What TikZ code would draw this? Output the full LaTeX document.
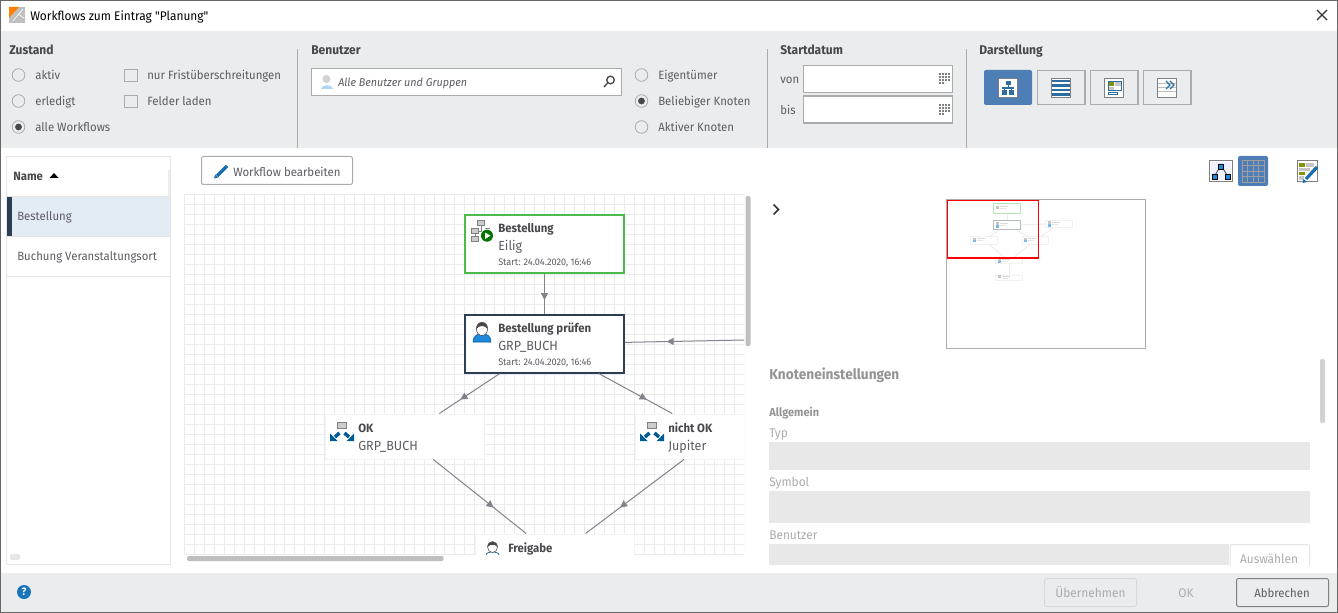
\documentclass[tikz,border=0pt]{standalone}
\usepackage{fontspec}
\setmainfont{Fira Sans}[FakeStretch=0.95]
\newfontfamily\wintitlefont{Fira Sans}[FakeStretch=0.95]
\usetikzlibrary{arrows.meta,decorations.markings}
\definecolor{barbg}{HTML}{EBECEE}
\definecolor{txtgray}{HTML}{5C5C62}
\definecolor{headgray}{HTML}{48484C}
\definecolor{edgegray}{HTML}{ABABAB}
\definecolor{softgray}{HTML}{E6E6E6}
\definecolor{fieldgray}{HTML}{E8E8E8}
\definecolor{gridgray}{HTML}{EBEBEB}
\definecolor{linkgray}{HTML}{82828C}
\definecolor{activeblue}{HTML}{4F7DB5}
\definecolor{iconblue}{HTML}{2B6E9F}
\definecolor{splitblue}{HTML}{005A96}
\definecolor{personblue}{HTML}{1E88DC}
\definecolor{navy}{HTML}{2C3E55}
\definecolor{startgreen}{HTML}{4CBB4C}
\definecolor{rowblue}{HTML}{E3ECF3}
\tikzset{
  lbl/.style={anchor=base west,inner sep=0pt,text=txtgray,font=\fontsize{9}{11}\selectfont},
  lblbold/.style={lbl,text=headgray,font=\fontsize{9}{11}\selectfont\bfseries},
  lblhead/.style={lbl,text=headgray,font=\fontsize{9.5}{11}\selectfont\bfseries},
  lblsub/.style={lbl,font=\fontsize{9.9}{11}\selectfont},
  lblsmall/.style={lbl,font=\fontsize{7.2}{9}\selectfont},
  lblform/.style={lbl,text=edgegray,font=\fontsize{9.4}{11}\selectfont},
  wfbox/.style={draw=gridgray!60,fill=white,line width=.75pt,minimum width=119.25pt,minimum height=33.75pt,inner sep=0pt},
  wfact/.style={wfbox,line width=1.5pt,minimum height=43pt},
  wflink/.style={draw=linkgray,line width=.75pt,postaction={decorate},
    decoration={markings,mark=at position 0.65 with {\arrow{Triangle[length=5.25pt,width=5.25pt]}}}},
  minibox/.style={draw=gridgray!70,fill=white,line width=.6pt,minimum width=20pt,inner sep=0pt},
  minilink/.style={draw=gridgray,line width=.6pt},
  radio/.style={draw=edgegray,fill=barbg,line width=.6pt},
  flatbtn/.style={draw=edgegray,line width=.9pt},
  personicon/.pic={
    \fill[personblue,draw=splitblue,line width=.4pt] (-9,16) .. controls (-9,10) and (-5,8) .. (0,7) .. controls (5,8) and (9,10) .. (9,16) -- cycle;
    \fill[white,draw=headgray,line width=.4pt] (0,3) ellipse (5.6 and 6.6);
    \fill[headgray] (-5.6,3) .. controls (-6.6,-6) and (6.6,-6) .. (5.6,3) .. controls (3,-1) and (-3,-1) .. (-5.6,3) -- cycle;
  },
  spliticon/.pic={
    \fill[gray!40,draw=gray,line width=.4pt] (7.5,-10) rectangle (16.5,-3.5);
    \draw[splitblue,line width=2.6pt] (9.5,1) -- (5,5);
    \fill[splitblue] (0,9) -- (0,1.5) -- (7.5,9) -- cycle;
    \draw[splitblue,line width=2.6pt] (14.5,1) -- (19,5);
    \fill[splitblue] (24,9) -- (24,1.5) -- (16.5,9) -- cycle;
  }
}
\begin{document}
\begin{tikzpicture}[x=0.75pt,y=-0.75pt]
\useasboundingbox (0,0) rectangle (1338,613);
\fill[white] (0,0) rectangle (1338,613);
\fill[barbg] (0,31) rectangle (1338,148);
\fill[barbg] (0,573) rectangle (1338,613);
\draw[edgegray!60!black,line width=.75pt] (0.5,0.5) rectangle (1337.5,612.5);

\fill[gray!50] (9,7) rectangle (25,23);
\fill[orange] (9,7) -- (19,7) -- (9,18) -- cycle;
\draw[white,line width=.5pt] (13,21) -- (23,9) (18,14) -- (24,18);
\node[lbl,text=black,font=\wintitlefont\fontsize{9.4}{11}\selectfont] (wintitle) at (30,20.5) {Workflows zum Eintrag "Planung"};
\draw[black!80,line width=.9pt] (1317,10) -- (1327,20) (1327,10) -- (1317,20);

\foreach \x in {297,767,966}
    \draw[edgegray,line width=.75pt] (\x,49) -- (\x,148);
\node[lblhead] (headzustand) at (9,55) {Zustand};
\node[lblhead] (headbenutzer) at (311,55) {Benutzer};
\node[lblhead] (headstart) at (780,55) {Startdatum};
\node[lblhead] (headdarst) at (979,55) {Darstellung};

\foreach \x/\y/\t in {18.5/75/aktiv,18.5/101/erledigt,18.5/127/alle Workflows,641.5/75/Eigentümer,641.5/101/Beliebiger Knoten,641.5/127/Aktiver Knoten}{
    \draw[radio] (\x,\y) circle (6.3);
    \node[lbl,xshift=12.4pt] (radio\x\y) at (\x,\y+5) {\t};
}
\fill[headgray] (18.5,127) circle (3.4);
\fill[headgray] (641.5,101) circle (3.4);
\foreach \y/\t in {75/nur Fristüberschreitungen,101/Felder laden}{
    \draw[edgegray,line width=.6pt] (124.5,\y-6) rectangle (137,\y+6);
    \node[lbl] (check\y) at (147,\y+5) {\t};
}

\draw[flatbtn,fill=white] (311.5,68.5) rectangle (621.5,95.5);
\fill[gray!35] (326.5,79) circle (4);
\fill[personblue!35] (320.5,89) .. controls (320.5,84) and (332.5,84) .. (332.5,89) -- cycle;
\node[lbl,font=\fontsize{8.5}{11}\selectfont\itshape] (searchtxt) at (338,86.5) {Alle Benutzer und Gruppen};
\draw[headgray,line width=1pt] (610.5,80) circle (3.8) (607.8,82.8) -- (604,87);

\node[lbl] (vonlbl) at (780,84) {von};
\node[lbl] (bislbl) at (780,115) {bis};
\foreach \y in {65.5,96}{
    \draw[flatbtn,fill=white] (803.5,\y) rectangle (952.5,\y+27);
    \foreach \i in {0,1,2,3}
        \foreach \j in {0,1,2}
            \fill[gray] (939+3*\i,\y+8+3*\j) rectangle +(2,2);
    \fill[gray] (939,\y+17) rectangle +(2,2);
    \fill[gray] (942,\y+17) rectangle +(2,2);
}

\fill[activeblue,rounded corners=1.5pt] (984,70) rectangle (1032,105);
\foreach \x in {1037,1090,1143}
    \draw[flatbtn] (\x.5,70.5) rectangle (\x+48,104.5);
\foreach \x in {998,1051,1104,1157}
    \draw[gray,fill=white,line width=.75pt] (\x.5,78.5) rectangle (\x+19.5,97.5);
\fill[iconblue] (1005.5,81) rectangle (1010.5,85.5);
\fill[iconblue] (1002,87) rectangle (1014,89);
\fill[iconblue] (1002,90.5) rectangle (1007,95);
\fill[iconblue] (1009,90.5) rectangle (1014,95);
\draw[iconblue,line width=.75pt] (1008,85) -- (1008,87) (1004.5,89) -- (1004.5,91) (1011.5,89) -- (1011.5,91);
\foreach \y in {80,84.5,89,93.5}
    \fill[iconblue] (1052,\y) rectangle (1070,\y+2.5);
\fill[olive!80!green] (1108,82) rectangle (1114,86);
\fill[gray!45] (1115,82) rectangle (1121,86);
\fill[gray!45] (1108,87) rectangle (1114,91);
\draw[iconblue,line width=.75pt] (1108,82) rectangle (1121,91) (1108,93) rectangle (1117,95);
\foreach \y in {84,88,92}
    \draw[gray!50,line width=.75pt] (1158,\y) -- (1176,\y);
\draw[iconblue,line width=.9pt] (1166,81) -- (1170,85) -- (1166,89) (1170,81) -- (1174,85) -- (1170,89);

\draw[softgray,line width=.75pt] (6.5,156.5) rectangle (170.5,564.5);
\draw[softgray,line width=.75pt] (7,196) -- (170,196) (7,276) -- (170,276);
\fill[softgray!70] (168,170) rectangle (170,196);
\node[lblbold] (colname) at (13,180.5) {Name};
\fill[black] (49.5,178) -- (54,173) -- (58.5,178) -- cycle;
\fill[rowblue] (7,197) rectangle (170,236);
\fill[navy] (7,197) rectangle (12,236);
\draw[softgray,line width=.75pt] (7,236.5) -- (170,236.5);
\node[lbl] (rowone) at (17,220) {Bestellung};
\node[lbl] (rowtwo) at (17,260) {Buchung Veranstaltungsort};
\fill[softgray,rounded corners=1pt] (10,554) rectangle (20,560);

\draw[edgegray,fill=white,line width=.75pt,rounded corners=1.5pt] (201.5,156.5) rectangle (352.5,184.5);
\draw[personblue!80!black,line width=2.6pt] (217,176) -- (227,166);
\fill[personblue!80!black] (214,178.5) -- (215,174.5) -- (218,177.5) -- cycle;
\node[lbl] (editlbl) at (233,176) {Workflow bearbeiten};

\begin{scope}
\clip (184,194) rectangle (744,555);
\foreach \x in {184,194,...,744}
    \draw[gridgray,line width=.75pt] (\x.5,194) -- (\x.5,555);
\foreach \y in {194,204,...,554}
    \draw[gridgray,line width=.75pt] (184,\y.5) -- (744,\y.5);
\node[wfact,draw=startgreen] (bestellung) at (544.5,244) {};
\node[wfact,draw=navy] (pruefen) at (544.5,344) {};
\node[wfbox] (okknoten) at (404.5,436.5) {};
\node[wfbox] (nichtok) at (714.5,436.5) {};
\node[wfbox] (freigabe) at (555,556.5) {};
\coordinate (rueck) at (744,340);
\draw[wflink] (bestellung) -- (pruefen);
\draw[wflink] (rueck) -- (pruefen);
\draw[wflink] (pruefen) -- (okknoten);
\draw[wflink] (pruefen) -- (nichtok);
\draw[wflink] (okknoten) -- (freigabe);
\draw[wflink] (nichtok) -- (freigabe);

\node[lblbold] (tbest) at (498,232) {Bestellung};
\node[lblsub] (sbest) at (498,250) {Eilig};
\node[lblsmall] (dbest) at (498,265) {Start: 24.04.2020, 16:46};
\node[lblbold] (tpruef) at (498,332) {Bestellung prüfen};
\node[lblsub] (spruef) at (498,350) {GRP\_BUCH};
\node[lblsmall] (dpruef) at (498,365) {Start: 24.04.2020, 16:46};
\node[lblbold] (tok) at (358,432) {OK};
\node[lblsub] (sok) at (358,450) {GRP\_BUCH};
\node[lblbold] (tnicht) at (668,432) {nicht OK};
\node[lblsub] (snicht) at (668,450) {Jupiter};
\node[lblbold] (tfrei) at (508,552) {Freigabe};

\fill[gray!40,draw=gray,line width=.4pt] (477.5,220.5) rectangle (484.5,225.5) (471.5,228.5) rectangle (478.5,233.5) (471.5,236) rectangle (478.5,241);
\draw[gray,line width=.5pt] (481,225.5) -- (481,231) -- (478.5,231) (475,233.5) -- (475,236) (484.5,228) -- (490,228);
\fill[green!45!black] (487,235.7) circle (6);
\fill[white] (485,232.5) -- (485,239) -- (490.5,235.7) -- cycle;
\pic at (482,326) {personicon};
\pic at (330,432) {spliticon};
\pic at (640,432) {spliticon};
\fill[white,draw=splitblue,line width=.5pt] (486,555) .. controls (486,551) and (499,551) .. (499,555);
\fill[white,draw=headgray,line width=.4pt] (492.5,547) ellipse (5 and 5.5);
\fill[headgray] (487.5,547) .. controls (487,540) and (498,540) .. (497.5,547) .. controls (495,544) and (490,544) .. (487.5,547) -- cycle;
\end{scope}

\fill[gray!50,rounded corners=1pt] (745.5,196) rectangle (750.5,346);
\fill[gray!50,rounded corners=1pt] (187,556) rectangle (443.5,561);

\draw[flatbtn,fill=white,draw=gray,line width=.75pt] (1209.5,160.5) rectangle (1232.5,181.5);
\fill[blue!6] (1211,162) rectangle (1231,180);
\draw[headgray,line width=.6pt] (1221,165) -- (1214,177) (1221,165) -- (1228,177);
\draw[black,fill=personblue,line width=.5pt] (1218.5,164) rectangle (1223.5,169) (1212,174) rectangle (1217,179) (1225.5,174) rectangle (1230.5,179);
\fill[activeblue,rounded corners=1.5pt] (1238,156) rectangle (1268,186);
\draw[gray!75,line width=.6pt] (1242,160) rectangle (1264,182);
\foreach \k in {1,2,3}{
    \draw[gray!75,line width=.6pt] (1242+5.5*\k,160) -- (1242+5.5*\k,182);
    \draw[gray!75,line width=.6pt] (1242,160+5.5*\k) -- (1264,160+5.5*\k);
}
\draw[gray,fill=white,line width=.75pt] (1297.5,160.5) rectangle (1317.5,181.5);
\fill[olive!80!green] (1299,163) rectangle (1305,167);
\fill[olive!80!green] (1299,172) rectangle (1305,175);
\fill[gray!45] (1306,163) rectangle (1314,167);
\fill[gray!45] (1299,168) rectangle (1310,171);
\fill[gray!45] (1299,176) rectangle (1304,180);
\draw[personblue!80!black,line width=2.4pt] (1306,179) -- (1317,167);
\fill[personblue!80!black] (1302.5,183) -- (1303.5,179) -- (1307,182) -- cycle;

\draw[black!80,line width=1.3pt] (773.5,204.5) -- (778.5,209.5) -- (773.5,214.5);

\draw[edgegray,fill=white,line width=.75pt] (946.5,199.5) rectangle (1145.5,348.5);
\node[minibox,draw=startgreen!40,minimum height=7.2pt] (mone) at (1007,208.5) {};
\node[minibox,draw=navy!35,minimum height=7pt] (mtwo) at (1007,225) {};
\node[minibox,minimum height=5pt] (mthree) at (1058.7,224) {};
\node[minibox,minimum height=5.5pt] (mfour) at (983.7,240.3) {};
\node[minibox,minimum height=5.5pt] (mfive) at (1035.3,240.3) {};
\node[minibox,minimum height=4.3pt] (msix) at (1009,261) {};
\node[minibox,minimum height=4pt] (mseven) at (1009,277.7) {};
\foreach \a/\b in {mone/mtwo,mthree/mtwo,mtwo/mfour,mtwo/mfive,mfour/msix,mfive/msix,mfive/mthree,msix/mseven}
    \draw[minilink] (\a) -- (\b);
\foreach \x/\y in {996/207,996/223.5,1048/222.5,973/239,1024/239,998/260,998/276.5}{
    \fill[gray!45] (\x,\y-1.5) rectangle +(2.5,3);
    \fill[gray!30] (\x+4,\y-1) rectangle +(8,1);
    \fill[gray!20] (\x+4,\y+1) rectangle +(6,1);
}
\fill[personblue!60] (996,225) rectangle +(2.5,2.5);
\fill[personblue!60] (1048,224) rectangle +(2.5,2.5);
\fill[personblue!60] (973,240) rectangle +(3,1.5);
\fill[personblue!60] (1024,240) rectangle +(3,1.5);
\fill[personblue!60] (998,261) rectangle +(3,2);
\draw[red,line width=1pt] (947.5,200.5) rectangle (1038.5,258);

\node[lblbold,text=gray!85,font=\fontsize{10.8}{12}\selectfont\bfseries] (knotenhead) at (769,379) {Knoteneinstellungen};
\node[lblbold,text=gray!85,font=\fontsize{8.7}{10}\selectfont\bfseries] (allgemein) at (769,416) {Allgemein};
\node[lblform] (typlbl) at (769,437) {Typ};
\fill[fieldgray] (769,442) rectangle (1310,470);
\node[lblform] (symlbl) at (769,486) {Symbol};
\fill[fieldgray] (769,491) rectangle (1310,523);
\node[lblform] (benlbl) at (769,539) {Benutzer};
\fill[fieldgray] (769,544) rectangle (1229,565);
\begin{scope}
\clip (1225,540) rectangle (1315,565);
\draw[softgray,fill=white,line width=.75pt,rounded corners=1.5pt] (1230,544.5) rectangle (1309.5,575);
\end{scope}
\node[lblform,anchor=base] (auswahl) at (1269,563) {Auswählen};
\fill[gray!35,rounded corners=1pt] (1320,359) rectangle (1325,423);

\fill[personblue!85!black] (24,592) circle (7);
\node[anchor=center,inner sep=0pt,text=white,font=\fontsize{8}{10}\selectfont\bfseries] (helpmark) at (24,592) {?};
\draw[gray!30,line width=.75pt,rounded corners=1.5pt] (1044.5,578.5) rectangle (1136.5,606.5);
\node[lblform,anchor=base] (uebern) at (1090.5,597) {Übernehmen};
\node[lblform,anchor=base] (okbtn) at (1186,597) {OK};
\draw[gray,line width=.75pt,rounded corners=1.5pt] (1236.5,578.5) rectangle (1328.5,606.5);
\node[lbl,anchor=base] (abbr) at (1282,597) {Abbrechen};
\end{tikzpicture}
\end{document}
